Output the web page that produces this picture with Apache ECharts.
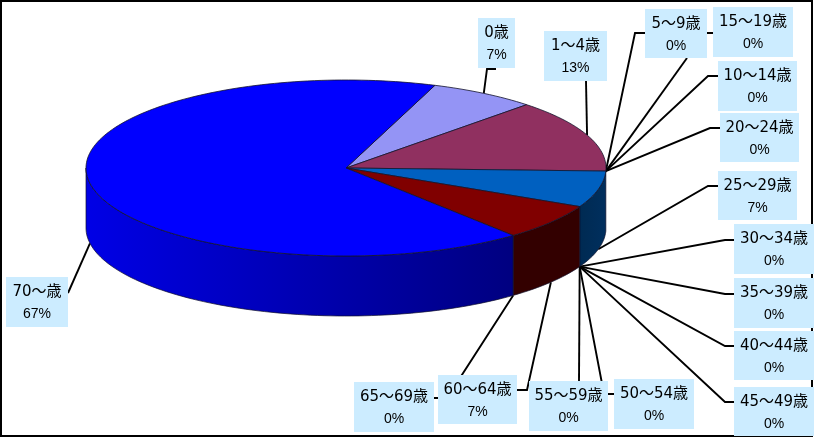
<!DOCTYPE html>
<html lang="ja">
<head>
<meta charset="utf-8">
<style>html,body{margin:0;padding:0;background:#fff}#c{width:814px;height:437px}</style>
<script src="https://cdn.jsdelivr.net/npm/echarts@6/dist/echarts.min.js"></script>
</head>
<body>
<div id="c"></div>
<script>
// ---- data ----
const categories = ['0歳','1～4歳','5～9歳','10～14歳','15～19歳','20～24歳','25～29歳','30～34歳','35～39歳','40～44歳','45～49歳','50～54歳','55～59歳','60～64歳','65～69歳','70～歳'];
const values = [1,2,0,0,0,0,1,0,0,0,0,0,0,1,0,10];

// ---- styles and layout ----
const topColors = {0:'#9494F5',1:'#903060',6:'#0060C0',13:'#800000',15:'#0000FF'};
const sideColors = {6:['#002A52','#002F5E'],13:['#330000','#330000'],15:['#0000E6','#000080']};
const boxFill = '#CCECFF';
const PIE = {cx:346, cy:168, rx:260, ry:88, depth:60, start:20};
const labelBoxes = [
 [478,18,515,68],[544,31,607,81],[645,9,707,58],[718,61,797,111],[713,7,793,57],[720,113,799,162],
 [718,171,797,220],[734,224,814,274],[734,278,814,328],[734,331,814,380],[734,387,814,436],
 [614,379,694,429],[529,381,608,431],[438,375,517,424],[354,382,434,432],[6,277,68,327]];
const leaderVia = [
 [[487,69],[496,69]],[[586,81]],[[687,58]],[[708,76],[718,76]],[[635,33],[713,33]],[[710,128],[720,128]],
 [[708,186],[718,186]],[[725,240],[734,240]],[[725,294],[734,294]],[[725,346],[734,346]],[[725,402],[734,402]],
 [[604,394],[614,394]],[[579,381]],[[527,390],[517,390]],[[447,398],[434,398]],[[68,293]]];

// ---- scale: value -> angle, clockwise from the top of the ellipse ----
const total = values.reduce((a,b)=>a+b,0);
const spans = [];
values.reduce((acc,v)=>{const e=acc+v/total*360; spans.push([acc,e]); return e;}, PIE.start);
const pt = (t,dy=0)=>{const r=t*Math.PI/180; return [PIE.cx+PIE.rx*Math.sin(r), PIE.cy-PIE.ry*Math.cos(r)+dy];};
const arc = (a,b,dy=0)=>{const n=Math.max(2,Math.ceil((b-a)/1.5)),o=[];for(let i=0;i<=n;i++)o.push(pt(a+(b-a)*i/n,dy));return o;};

function renderSide(p){
  const i=p.dataIndex, c=sideColors[i]; if(!c||!values[i]) return null;
  const a=Math.max(spans[i][0],90), b=Math.min(spans[i][1],270); if(b<=a) return null;
  const pts=arc(a,b).concat(arc(a,b,PIE.depth).reverse());
  return {type:'polygon',shape:{points:pts},style:{
    fill:new echarts.graphic.LinearGradient(0,0,1,0,[{offset:0,color:c[0]},{offset:1,color:c[1]}]),
    stroke:'#10102a',lineWidth:0.7}};
}
function renderTop(p){
  const i=p.dataIndex; if(!values[i]) return null;
  const pts=[[PIE.cx,PIE.cy]].concat(arc(spans[i][0],spans[i][1]));
  return {type:'polygon',shape:{points:pts},style:{fill:topColors[i],stroke:'#14142c',lineWidth:0.8}};
}
function renderLeader(p){
  const i=p.dataIndex, m=(spans[i][0]+spans[i][1])/2, t=((m%360)+360)%360;
  const onSide=t>95&&t<265;
  return {type:'polyline',shape:{points:[pt(t,onSide?PIE.depth:0)].concat(leaderVia[i])},
    style:{fill:null,stroke:'#000',lineWidth:1.9}};
}
function renderLabel(p){
  const i=p.dataIndex, b=labelBoxes[i], x=(b[0]+b[2])/2;
  const pct=Math.round(values[i]/total*100)+'%';
  return {type:'group',children:[
    {type:'rect',shape:{x:b[0],y:b[1],width:b[2]-b[0],height:b[3]-b[1]},style:{fill:boxFill}},
    {type:'text',x:x,y:b[1]+15.5,style:{text:categories[i],font:'15px "DejaVu Sans","Noto Sans CJK JP"',fill:'#000',align:'center',verticalAlign:'middle'}},
    {type:'text',x:x,y:b[1]+37,style:{text:pct,font:'14px "Liberation Sans"',fill:'#000',align:'center',verticalAlign:'middle'}}
  ]};
}
const mk=(name,fn,z)=>({type:'custom',name,coordinateSystem:'none',renderItem:fn,silent:true,z,
  data:categories.map((c,i)=>({name:c,value:values[i]}))});

const chart=echarts.init(document.getElementById('c'),null,{width:814,height:437});
chart.setOption({
  animation:false,
  backgroundColor:'#fff',
  graphic:[{type:'rect',z:0,silent:true,shape:{x:1,y:1,width:811,height:435},style:{fill:null,stroke:'#000',lineWidth:2}}],
  series:[mk('leaders',renderLeader,2),mk('sides',renderSide,3),mk('tops',renderTop,4),mk('labels',renderLabel,5)]
});
</script>
</body>
</html>
